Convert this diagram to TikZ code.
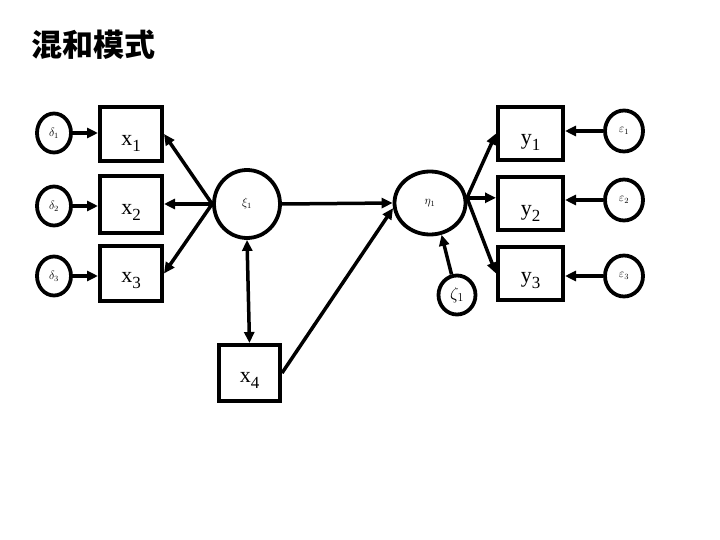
\documentclass[tikz,border=0pt]{standalone}
\usepackage{fontspec}
\setmainfont{Liberation Serif}
\newfontfamily\cjk{Noto Sans CJK SC}
\usetikzlibrary{arrows.meta,shapes.geometric}

% label of an observed variable, set low in its box
\newcommand{\obslab}[3]{\raisebox{-#3pt}[0pt][0pt]{#1\raisebox{-6pt}{\fontsize{17}{17}\selectfont #2}}}

\begin{document}
\begin{tikzpicture}[x=1pt, y=-1pt,
    obs/.style={draw, line width=4pt, minimum width=62pt, minimum height=54pt,
      inner sep=0pt, font=\fontsize{22}{22}\selectfont},
    lat/.style={draw, ellipse, line width=3.8pt, inner sep=0pt,
      font=\fontsize{12}{12}\selectfont},
    arr/.style={line width=3.5pt, -{Triangle[length=11pt,width=10pt]}},
    both/.style={line width=3.5pt, {Triangle[length=11pt,width=10pt]}-{Triangle[length=11pt,width=10pt]}}]
  \useasboundingbox[fill=white] (0,0) rectangle (720,540);

  \node[anchor=west, inner sep=0pt, font=\cjk\bfseries\fontsize{31}{31}\selectfont] (title) at (31,45) {混和模式};

  % x side
  \node[obs] (x1) at (131,134) {\obslab{x}{1}{12}};
  \node[obs, minimum height=57pt] (x2) at (131,204.5) {\obslab{x}{2}{10}};
  \node[obs, minimum height=55pt] (x3) at (131,273.5) {\obslab{x}{3}{9}};
  \node[obs, minimum width=61pt, minimum height=56pt] (x4) at (249.5,373) {\obslab{x}{4}{9}};
  \node[lat, minimum width=34pt, minimum height=39pt] (d1) at (54,133) {$\delta_1$};
  \node[lat, minimum width=34pt, minimum height=39pt] (d2) at (54,206) {$\delta_2$};
  \node[lat, minimum width=34pt, minimum height=39pt] (d3) at (54,276) {$\delta_3$};

  % latent variables
  \node[lat, minimum width=66pt, minimum height=68pt] (xi) at (247,204) {$\xi_1$};
  \node[lat, minimum width=71pt, minimum height=63pt] (eta) at (430,203) {$\eta_1$};
  \node[lat, minimum width=37pt, minimum height=39pt, font=\fontsize{17}{17}\selectfont] (zeta) at (457,295) {$\zeta_1$};

  % y side
  \node[obs, minimum width=65pt, minimum height=53pt] (y1) at (530.5,133.5) {\obslab{y}{1}{11}};
  \node[obs, minimum width=65pt, minimum height=53pt] (y2) at (530.5,203.5) {\obslab{y}{2}{12}};
  \node[obs, minimum width=65pt, minimum height=53pt] (y3) at (530.5,273.5) {\obslab{y}{3}{9}};
  \node[lat, minimum width=38pt, minimum height=41pt] (e1) at (624,131) {$\varepsilon_1$};
  \node[lat, minimum width=38pt, minimum height=41pt] (e2) at (624,200) {$\varepsilon_2$};
  \node[lat, minimum width=38pt, minimum height=41pt] (e3) at (624,276) {$\varepsilon_3$};

  \draw[arr] (d1.east) -- (d1.east -| x1.west);
  \draw[arr] (d2.east) -- (d2.east -| x2.west);
  \draw[arr] (d3.east) -- (d3.east -| x3.west);
  \draw[arr] (xi.west) -- (x1.east);
  \draw[arr] (xi.west) -- (xi.west -| x2.east);
  \draw[arr] (xi.west) -- (x3.east);
  \draw[both] (xi.south) -- (x4.north);
  \draw[arr] (xi.east) -- (eta.west);
  \draw[arr] (x4.east) -- (eta.188);
  \draw[arr] (zeta.105) -- (eta.-70);
  \draw[arr] (eta.8) -- (y1.west);
  \draw[arr] (eta.8) -- (eta.8 -| y2.west);
  \draw[arr] (eta.8) -- (y3.west);
  \draw[arr] (e1.west) -- (e1.west -| y1.east);
  \draw[arr] (e2.west) -- (e2.west -| y2.east);
  \draw[arr] (e3.west) -- (e3.west -| y3.east);
\end{tikzpicture}
\end{document}
